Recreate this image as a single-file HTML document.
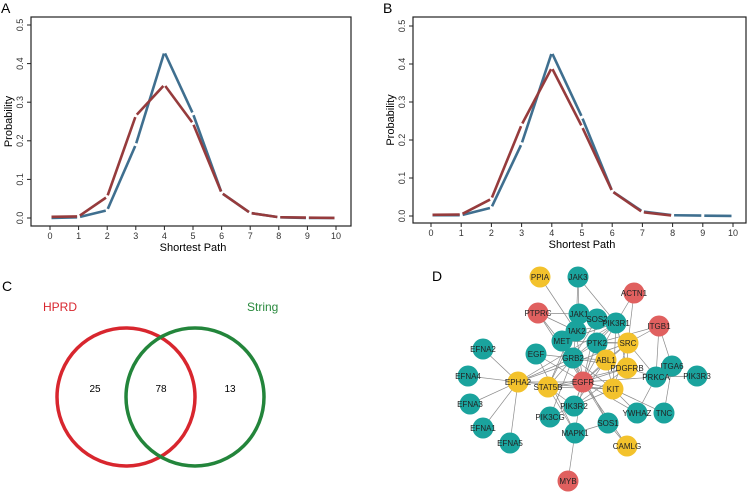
<!DOCTYPE html>
<html><head><meta charset="utf-8"><style>
body{margin:0;background:#fff;}
svg text{font-family:"Liberation Sans",sans-serif;}
</style></head><body>
<svg id="fig" width="748" height="492" viewBox="0 0 748 492" xmlns="http://www.w3.org/2000/svg">
<g id="pa"></g>
<g id="pb"></g>
<g id="pc">
<text x="2" y="291" font-size="14">C</text>
<text x="43" y="311" font-size="12" fill="#d8262e">HPRD</text>
<text x="247" y="311" font-size="12" fill="#2a8a3e">String</text>
<circle cx="126" cy="397" r="69" fill="none" stroke="#d8262e" stroke-width="3.5"/>
<circle cx="195" cy="397" r="69" fill="none" stroke="#23853b" stroke-width="3.5"/>
<text x="95" y="392" font-size="10" text-anchor="middle">25</text>
<text x="161" y="392" font-size="10" text-anchor="middle">78</text>
<text x="230" y="392" font-size="10" text-anchor="middle">13</text>
</g>
<g id="pd">
<text x="432" y="281" font-size="14">D</text>
<g id="edges"></g><g id="nodes"></g>
</g>
</svg>
<script>
const NS="http://www.w3.org/2000/svg";
const xCats=[0,1,2,3,4,5,6,7,8,9,10];
const yTicks=[0.0,0.1,0.2,0.3,0.4,0.5];
const aBlue=[0.0,0.002,0.02,0.19,0.43,0.27,0.065,0.013,0.002,0.0,0.0];
const aRed=[0.003,0.004,0.055,0.265,0.345,0.245,0.065,0.013,0.002,0.001,0.0];
const bBlue=[0.002,0.002,0.022,0.19,0.43,0.26,0.065,0.012,0.002,0.001,0.0];
const bRed=[0.003,0.004,0.045,0.24,0.39,0.235,0.065,0.01,0.001];
function mk(t,a,p){const e=document.createElementNS(NS,t);for(const k in a)e.setAttribute(k,a[k]);(p||document.getElementById('fig')).appendChild(e);return e;}
function panel(g,label,L,R,T,B,x0,x10,y0,y5,blue,red){
  const gp=document.getElementById(g);
  const sx=v=>x0+(x10-x0)*v/10, sy=v=>y0+(y5-y0)*v/0.5;
  const t=mk('text',{x:L-30,y:13,'font-size':14},gp);t.textContent=label;
  
  
  const fr=mk('rect',{x:L,y:T,width:R-L,height:B-T,fill:'none',stroke:'#222','stroke-width':1.2},gp);
  
  
  xCats.forEach(c=>{mk('line',{x1:sx(c),x2:sx(c),y1:B,y2:B+4,stroke:'#222'},gp);
    const tx=mk('text',{x:sx(c),y:B+13,'font-size':9,'text-anchor':'middle',fill:'#333'},gp);tx.textContent=c;
    
    });
  yTicks.forEach(v=>{mk('line',{x1:L-4,x2:L,y1:sy(v),y2:sy(v),stroke:'#222'},gp);
    const tx=mk('text',{x:0,y:0,'font-size':9,'text-anchor':'middle',fill:'#333',transform:`translate(${L-8},${sy(v)}) rotate(-90)`},gp);tx.textContent=v.toFixed(1);
    
    });
  const xt=mk('text',{x:(x0+x10)/2,y:B+25,'font-size':11,'text-anchor':'middle'},gp);xt.textContent='Shortest Path';
  
  
  const yt=mk('text',{x:0,y:0,'font-size':11,'text-anchor':'middle',transform:`translate(${L-19},${(T+B)/2}) rotate(-90)`},gp);yt.textContent='Probability';
  
  
  [[blue,'#3f6f8f','blue-series'],[red,'#963b3c','red-series']].forEach(([d,col,nm])=>{
    for(let i=0;i<d.length-1;i++){
      let xa=sx(xCats[i]),ya=sy(d[i]),xb=sx(xCats[i+1]),yb=sy(d[i+1]);
      const dx=xb-xa,dy=yb-ya,len=Math.hypot(dx,dy),s=1.5/len;
      const ln=mk('line',{x1:xa+dx*s,y1:ya+dy*s,x2:xb-dx*s,y2:yb-dy*s,stroke:col,'stroke-width':2.6},gp);
      
      
    }
  });
}
panel('pa','A',31,351,17,226,50,336,218,25,aBlue,aRed);
panel('pb','B',413,746,17,223,431,733,216,26,bBlue,bRed);

const nodes=[["PPIA",540,277,"y"],["JAK3",578,277,"t"],["ACTN1",634,293,"r"],["PTPRC",538,313,"r"],["JAK1",579,314,"t"],["SOS2",597,319,"t"],["PIK3R1",616,323,"t"],["ITGB1",659,326,"r"],["JAK2",576,331,"t"],["MET",562,341,"t"],["PTK2",597,343,"t"],["SRC",628,343,"y"],["EFNA2",483,349,"t"],["EGF",536,354,"t"],["GRB2",573,358,"t"],["ABL1",606,360,"y"],["ITGA6",672,366,"t"],["PDGFRB",627,368,"y"],["PIK3R3",697,376,"t"],["EFNA4",468,376,"t"],["PRKCA",656,377,"t"],["EPHA2",518,382,"y"],["EGFR",583,382,"r"],["STAT5B",548,387,"y"],["KIT",613,389,"y"],["EFNA3",470,404,"t"],["PIK3R2",574,406,"t"],["YWHAZ",637,413,"t"],["TNC",664,413,"t"],["PIK3CG",550,417,"t"],["EFNA1",483,428,"t"],["SOS1",608,423,"t"],["MAPK1",575,433,"t"],["EFNA5",510,443,"t"],["CAMLG",627,446,"y"],["MYB",568,481,"r"]];
const edges=[["EPHA2","EFNA2"],["EPHA2","EFNA4"],["EPHA2","EFNA3"],["EPHA2","EFNA1"],["EPHA2","EFNA5"],["EPHA2","EGFR"],["EPHA2","GRB2"],["EPHA2","KIT"],["EPHA2","PIK3R1"],["EPHA2","SRC"],["PPIA","JAK2"],["JAK3","JAK1"],["JAK3","JAK2"],["JAK3","PIK3R1"],["ACTN1","PIK3R1"],["ACTN1","SRC"],["PTPRC","JAK1"],["PTPRC","JAK2"],["PTPRC","GRB2"],["PTPRC","EGFR"],["ITGB1","SRC"],["ITGB1","ITGA6"],["ITGB1","PRKCA"],["ITGB1","PTK2"],["JAK1","JAK2"],["JAK1","STAT5B"],["JAK1","PIK3R1"],["JAK2","STAT5B"],["JAK2","GRB2"],["JAK2","PIK3R1"],["JAK2","EGFR"],["SOS2","GRB2"],["SOS2","EGFR"],["SOS2","PIK3R1"],["PIK3R1","EGFR"],["PIK3R1","GRB2"],["PIK3R1","KIT"],["PIK3R1","PDGFRB"],["PIK3R1","MET"],["PIK3R1","PTK2"],["MET","GRB2"],["MET","SRC"],["MET","EGFR"],["PTK2","SRC"],["PTK2","GRB2"],["PTK2","EGFR"],["PTK2","PIK3R2"],["SRC","EGFR"],["SRC","PDGFRB"],["SRC","KIT"],["SRC","PRKCA"],["SRC","ABL1"],["EGF","EGFR"],["EGF","GRB2"],["EGF","MAPK1"],["GRB2","EGFR"],["GRB2","SOS1"],["GRB2","KIT"],["GRB2","PDGFRB"],["GRB2","ABL1"],["GRB2","STAT5B"],["ABL1","EGFR"],["ABL1","KIT"],["ABL1","PIK3R2"],["ITGA6","PRKCA"],["ITGA6","TNC"],["PIK3R3","PRKCA"],["PRKCA","EGFR"],["PRKCA","YWHAZ"],["PRKCA","PDGFRB"],["EGFR","STAT5B"],["EGFR","KIT"],["EGFR","PIK3R2"],["EGFR","SOS1"],["EGFR","MAPK1"],["EGFR","PDGFRB"],["EGFR","CAMLG"],["KIT","STAT5B"],["KIT","PIK3R2"],["KIT","YWHAZ"],["KIT","TNC"],["PIK3R2","PIK3CG"],["PIK3R2","STAT5B"],["PIK3R2","PDGFRB"],["MAPK1","MYB"],["MAPK1","STAT5B"],["MAPK1","SOS1"],["SOS1","CAMLG"],["STAT5B","PDGFRB"],["PIK3CG","GRB2"],["YWHAZ","EGFR"]];
const pos={};nodes.forEach(n=>pos[n[0]]=n);
const eg=document.getElementById('edges'),ng=document.getElementById('nodes');
edges.forEach(e=>{const a=pos[e[0]],b=pos[e[1]];
  const l=mk('line',{x1:a[1],y1:a[2],x2:b[1],y2:b[2],stroke:'#8a8a8a','stroke-width':0.7},eg);
  
  });
const cols={t:'#1aa39d',y:'#f3c22c',r:'#e0605f'};
nodes.forEach(n=>{
  const c=mk('circle',{cx:n[1],cy:n[2],r:10.5,fill:cols[n[3]]},ng);
  
  
  const t=mk('text',{x:n[1],y:n[2]+3,'font-size':8,'text-anchor':'middle',fill:'#222'},ng);t.textContent=n[0];
  
  
});
</script>
</body></html>
